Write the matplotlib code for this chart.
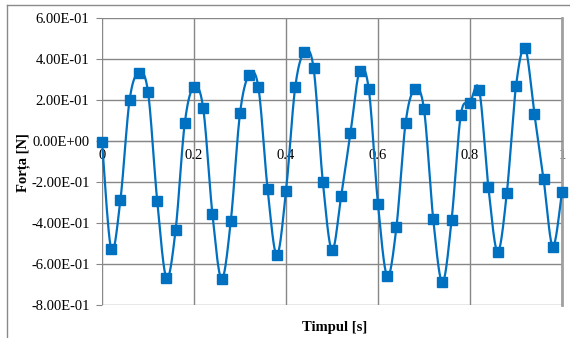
import numpy as np
import matplotlib
matplotlib.use("Agg")
import matplotlib.pyplot as plt
from matplotlib.lines import Line2D
from matplotlib.ticker import FuncFormatter, FixedLocator

# ---- data ----
time_s = [0.00, 0.02, 0.04, 0.06, 0.08, 0.10, 0.12, 0.14, 0.16, 0.18,
          0.20, 0.22, 0.24, 0.26, 0.28, 0.30, 0.32, 0.34, 0.36, 0.38,
          0.40, 0.42, 0.44, 0.46, 0.48, 0.50, 0.52, 0.54, 0.56, 0.58,
          0.60, 0.62, 0.64, 0.66, 0.68, 0.70, 0.72, 0.74, 0.76, 0.78,
          0.80, 0.82, 0.84, 0.86, 0.88, 0.90, 0.92, 0.94, 0.96, 0.98,
          1.00]
force_N = [-0.003, -0.528, -0.288, 0.200, 0.333, 0.240, -0.291, -0.667, -0.434, 0.089,
           0.265, 0.160, -0.356, -0.673, -0.390, 0.135, 0.323, 0.262, -0.234, -0.556,
           -0.244, 0.262, 0.433, 0.355, -0.198, -0.532, -0.268, 0.037, 0.341, 0.252,
           -0.309, -0.659, -0.421, 0.089, 0.252, 0.155, -0.380, -0.689, -0.385, 0.127,
           0.187, 0.249, -0.226, -0.540, -0.255, 0.268, 0.452, 0.132, -0.187, -0.515,
           -0.247]
x_ticks = [0, 0.2, 0.4, 0.6, 0.8, 1]
x_tick_labels = ["0", "0.2", "0.4", "0.6", "0.8", "1"]
y_ticks = [-0.8, -0.6, -0.4, -0.2, 0.0, 0.2, 0.4, 0.6]
x_label = "Timpul [s]"
y_label = "Forța [N]"

plt.rcParams['font.family'] = ['Liberation Serif', 'DejaVu Serif']

W, H = 570, 338
fig = plt.figure(figsize=(W / 100, H / 100), dpi=100)
ax = fig.add_axes([102 / W, 1 - 305 / H, (562 - 102) / W, (305 - 18) / H])

blue = '#0070C0'
grid_c = '#878787'

# smooth (Excel-like) line through the points via Catmull-Rom Bezier segments
x = np.asarray(time_s, float)
y = np.asarray(force_N, float)
n = len(x)
sx, sy = [], []
t = np.linspace(0, 1, 20)
for i in range(n - 1):
    p0 = np.array([x[max(i - 1, 0)], y[max(i - 1, 0)]])
    p1 = np.array([x[i], y[i]])
    p2 = np.array([x[i + 1], y[i + 1]])
    p3 = np.array([x[min(i + 2, n - 1)], y[min(i + 2, n - 1)]])
    c1 = p1 + (p2 - p0) / 6
    c2 = p2 - (p3 - p1) / 6
    b = ((1 - t) ** 3)[:, None] * p1 + (3 * (1 - t) ** 2 * t)[:, None] * c1 \
        + (3 * (1 - t) * t ** 2)[:, None] * c2 + (t ** 3)[:, None] * p2
    sx.extend(b[:, 0]); sy.extend(b[:, 1])
ax.plot(sx, sy, color=blue, lw=1.6, zorder=3, clip_on=False)
ax.plot(x, y, ls='none', marker='s', ms=6.5, color=blue, mec=blue, zorder=4, clip_on=False)

ax.set_xlim(0, 1)
ax.set_ylim(-0.8, 0.6)
ax.yaxis.set_major_locator(FixedLocator(y_ticks))
ax.xaxis.set_major_locator(FixedLocator(x_ticks))
ax.set_xticklabels(x_tick_labels)
ax.yaxis.set_major_formatter(FuncFormatter(lambda v, p: f"{v:.2E}"))

ax.grid(True, color=grid_c, lw=1.0, zorder=1)
for s in ['top', 'right', 'left']:
    ax.spines[s].set_visible(False)
ax.spines['bottom'].set_position(('data', 0))
ax.spines['bottom'].set_color(grid_c)
ax.spines['right'].set_visible(True)
ax.spines['right'].set_color('#a0a0a0')
ax.spines['right'].set_linewidth(2)
ax.tick_params(axis='y', length=4, color=grid_c, labelsize=10.5, pad=5)
ax.tick_params(axis='x', length=4, color=grid_c, labelsize=10.5, pad=2, direction='out')
ax.set_axisbelow(True)

fig.text(335 / W, 1 - 327 / H, x_label, ha='center', va='center',
         fontsize=10.5, fontweight='bold')
fig.text(23 / W, 1 - 163 / H, y_label, ha='center', va='center',
         fontsize=10.5, fontweight='bold', rotation=90)

# outer chart border
fig.add_artist(Line2D([7 / W, 1.0], [1 - 5 / H, 1 - 5 / H], transform=fig.transFigure,
                      color='#8a8a8a', lw=1.0))
fig.add_artist(Line2D([7 / W, 7 / W], [1 - 5 / H, 0.0], transform=fig.transFigure,
                      color='#8a8a8a', lw=1.0))

fig.savefig('out.png', dpi=100)
